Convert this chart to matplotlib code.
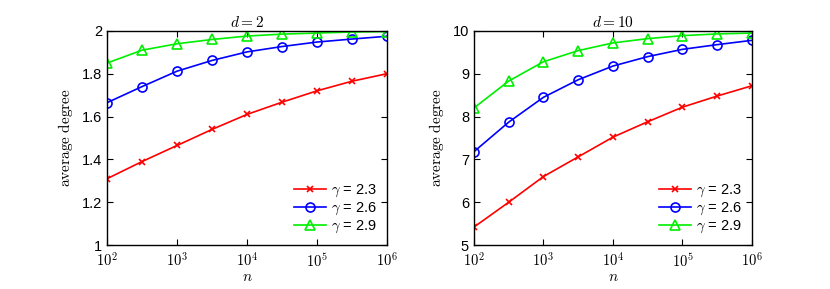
import numpy as np
import matplotlib.pyplot as plt

# n values: 10^2 ... 10^6 in half-decade steps
n = [1e2, 10**2.5, 1e3, 10**3.5, 1e4, 10**4.5, 1e5, 10**5.5, 1e6]

# d = 2
d2_g23 = [1.31, 1.39, 1.465, 1.54, 1.61, 1.667, 1.72, 1.765, 1.80]
d2_g26 = [1.665, 1.74, 1.812, 1.862, 1.902, 1.927, 1.948, 1.962, 1.975]
d2_g29 = [1.85, 1.91, 1.94, 1.96, 1.976, 1.985, 1.99, 1.995, 1.997]

# d = 10
d10_g23 = [5.42, 6.0, 6.6, 7.06, 7.52, 7.88, 8.22, 8.48, 8.72]
d10_g26 = [7.18, 7.87, 8.45, 8.86, 9.18, 9.40, 9.57, 9.68, 9.78]
d10_g29 = [8.2, 8.83, 9.28, 9.54, 9.72, 9.82, 9.89, 9.93, 9.95]

gamma_labels = ["2.3", "2.6", "2.9"]

plt.rcParams['mathtext.fontset'] = 'cm'
plt.rcParams['font.family'] = ['Liberation Sans', 'DejaVu Sans']

fig = plt.figure(figsize=(8.3, 2.89), dpi=100)
ax1 = fig.add_axes([0.129, 0.152, 0.337, 0.741])
ax2 = fig.add_axes([0.571, 0.152, 0.335, 0.741])

styles = [dict(color='red', marker='x', ms=5, mew=1.2),
          dict(color='blue', marker='o', ms=6.5, mfc='none', mew=1.2),
          dict(color='#00ee00', marker='^', ms=7, mfc='none', mew=1.2)]


def draw(ax, series, title, ylim, yticks, yticklabels):
    for s, st, g in zip(series, styles, gamma_labels):
        ax.plot(n, s, lw=1.2, label=r'$\gamma$ = ' + g, **st)
    ax.set_xscale('log')
    ax.set_xlim(1e2, 1e6)
    ax.set_ylim(*ylim)
    ax.set_xticks([1e2, 1e3, 1e4, 1e5, 1e6])
    ax.set_xticklabels([r'$\mathsf{10^{%d}}$' % k for k in range(2, 7)])
    ax.minorticks_off()
    ax.set_yticks(yticks)
    ax.set_yticklabels(yticklabels)
    ax.tick_params(direction='in', top=True, right=True, labelsize=10.5, length=4, width=0.8)
    ax.tick_params(axis='x', pad=5)
    for sp in ax.spines.values():
        sp.set_linewidth(1.0)
    ax.set_title(title, fontsize=11, pad=3)
    ax.set_xlabel(r'$n$', fontsize=11, labelpad=0)
    ax.set_ylabel(r'$\mathrm{average\ degree}$', fontsize=11, labelpad=5)
    ax.legend(loc='lower right', frameon=False, fontsize=10.5, handlelength=2.2,
              handletextpad=0.3, labelspacing=0.1, borderaxespad=0.3, markerscale=1.0)


draw(ax1, [d2_g23, d2_g26, d2_g29], r'$d = 2$', (1, 2),
     [1, 1.2, 1.4, 1.6, 1.8, 2], ['1', '1.2', '1.4', '1.6', '1.8', '2'])
draw(ax2, [d10_g23, d10_g26, d10_g29], r'$d = 10$', (5, 10),
     [5, 6, 7, 8, 9, 10], ['5', '6', '7', '8', '9', '10'])

fig.savefig('out.png', dpi=100)
